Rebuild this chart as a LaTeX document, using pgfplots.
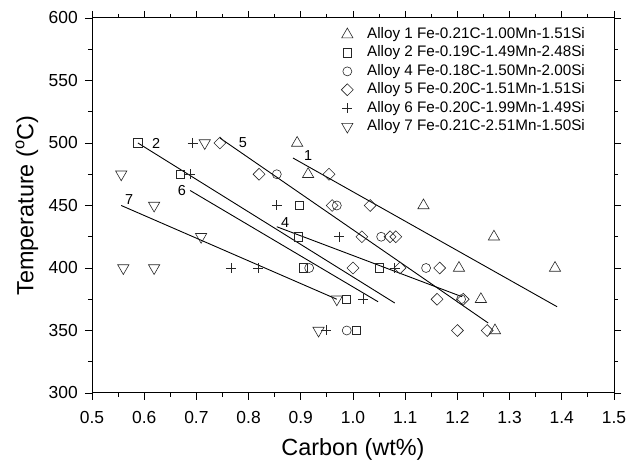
\documentclass[border=0pt]{standalone}
\usepackage{pgfplots}
\pgfplotsset{compat=1.18}
\usepackage{fontspec}
\setmainfont{Liberation Sans}
\begin{document}
\begin{tikzpicture}
\begin{axis}[
  scale only axis,
  width=522bp, height=375bp,
  xmin=0.5, xmax=1.5, ymin=300, ymax=600,
  xtick={0.5,0.6,...,1.51}, minor x tick num=1,
  ytick={300,350,...,600}, minor y tick num=1,
  tick align=outside,
  major tick length=7bp, minor tick length=4bp,
  every tick/.style={black, line width=0.9pt},
  axis line style={line width=1pt},
  /pgf/number format/assume math mode=true,
  xticklabel style={inner sep=0pt, font=\fontsize{17.5}{20}\selectfont, /pgf/number format/.cd, fixed, fixed zerofill, precision=1},
  yticklabel style={inner sep=0pt, font=\fontsize{17.5}{20}\selectfont, /pgf/number format/.cd, fixed, precision=0},
  xticklabel shift=11bp,
  yticklabel shift=7bp,
  scaled ticks=false,
  xlabel={Carbon (wt\%)},
  ylabel={Temperature (\textsuperscript{o}C)},
  label style={font=\fontsize{23.5}{27}\selectfont, inner sep=0pt},
  xlabel style={at={(axis description cs:0.5,-0.15)}, anchor=center},
  ylabel style={at={(axis description cs:-0.1245,0.5)}, anchor=center},
  legend style={draw=none, fill=none, at={(rel axis cs:0.470,0.975)}, anchor=north west,
    font=\fontsize{15.3}{18.4}\selectfont, row sep=4.4bp, inner sep=0pt,
    nodes={inner sep=0pt, text height=11bp, text depth=3bp}},
  legend cell align=left,
  legend image code/.code={\path (0bp,0bp) (29bp,0bp); \draw plot coordinates {(9.5bp,0bp)};},
  clip=false,
]
\coordinate (sw) at (rel axis cs:0,0);
\coordinate (ne) at (rel axis cs:1,1);
% Alloy 1
\addplot[only marks, mark=triangle, mark size=6.5bp, draw=black!85, line width=0.6pt] coordinates {
(0.893,500)(0.914,475)(1.135,450)(1.270,425)(1.203,400)(1.387,400)(1.245,375)(1.272,350)};
\addlegendentry{Alloy 1 Fe-0.21C-1.00Mn-1.51Si}
% Alloy 2
\addplot[only marks, mark=square, mark size=4.2bp, draw=black!85, line width=0.6pt] coordinates {
(0.588,500)(0.669,475)(0.897,450)(0.895,425)(1.050,400)(0.905,400)(0.987,375)(1.006,350)};
\addlegendentry{Alloy 2 Fe-0.19C-1.49Mn-2.48Si}
% Alloy 4
\addplot[only marks, mark=o, mark size=4.5bp, draw=black!85, line width=0.6pt] coordinates {
(0.854,475)(0.969,450)(1.054,425)(0.916,400)(1.140,400)(0.988,350)(1.207,375)};
\addlegendentry{Alloy 4 Fe-0.18C-1.50Mn-2.00Si}
% Alloy 5
\addplot[only marks, mark=square, mark options={rotate=45}, mark size=4.2bp, draw=black!85, line width=0.6pt] coordinates {
(0.745,500)(0.820,475)(0.954,475)(0.960,450)(1.033,450)(1.017,425)(1.071,425)(1.082,425)
(1.000,400)(1.090,400)(1.166,400)(1.161,375)(1.211,375)(1.200,350)(1.257,350)};
\addlegendentry{Alloy 5 Fe-0.20C-1.51Mn-1.51Si}
% Alloy 6
\addplot[only marks, mark=+, mark size=5bp, draw=black!85, line width=0.6pt] coordinates {
(0.693,500)(0.688,475)(0.854,450)(0.973,425)(0.766,400)(0.818,400)(1.080,400)(1.019,375)(0.948,350)};
\addlegendentry{Alloy 6 Fe-0.20C-1.99Mn-1.49Si}
% Alloy 7
\addplot[only marks, mark=triangle, mark options={rotate=180}, mark size=6.5bp, draw=black!85, line width=0.6pt] coordinates {
(0.716,500)(0.556,475)(0.619,450)(0.709,425)(0.560,400)(0.619,400)(0.969,375)(0.934,350)};
\addlegendentry{Alloy 7 Fe-0.21C-2.51Mn-1.50Si}
% fit lines
\addplot[black, line width=0.9pt, forget plot] coordinates {(0.885,488)(1.391,369)};
\addplot[black, line width=0.9pt, forget plot] coordinates {(0.588,500)(1.080,372)};
\addplot[black, line width=0.9pt, forget plot] coordinates {(0.854,433)(1.209,377)};
\addplot[black, line width=0.9pt, forget plot] coordinates {(0.745,504)(1.259,356)};
\addplot[black, line width=0.9pt, forget plot] coordinates {(0.688,462)(1.048,373)};
\addplot[black, line width=0.9pt, forget plot] coordinates {(0.556,450)(0.969,375)};
% line labels
\begin{scope}[every node/.style={font=\fontsize{14.5}{17}\selectfont, inner sep=0pt}]
\node at (axis cs:0.914,490) {1};
\node at (axis cs:0.623,500) {2};
\node at (axis cs:0.870,436) {4};
\node at (axis cs:0.789,500) {5};
\node at (axis cs:0.672,462) {6};
\node at (axis cs:0.571,455) {7};
\end{scope}
\end{axis}
\path ([shift={(-92bp,-63bp)}]sw) rectangle ([shift={(17bp,18bp)}]ne);
\end{tikzpicture}
\end{document}
